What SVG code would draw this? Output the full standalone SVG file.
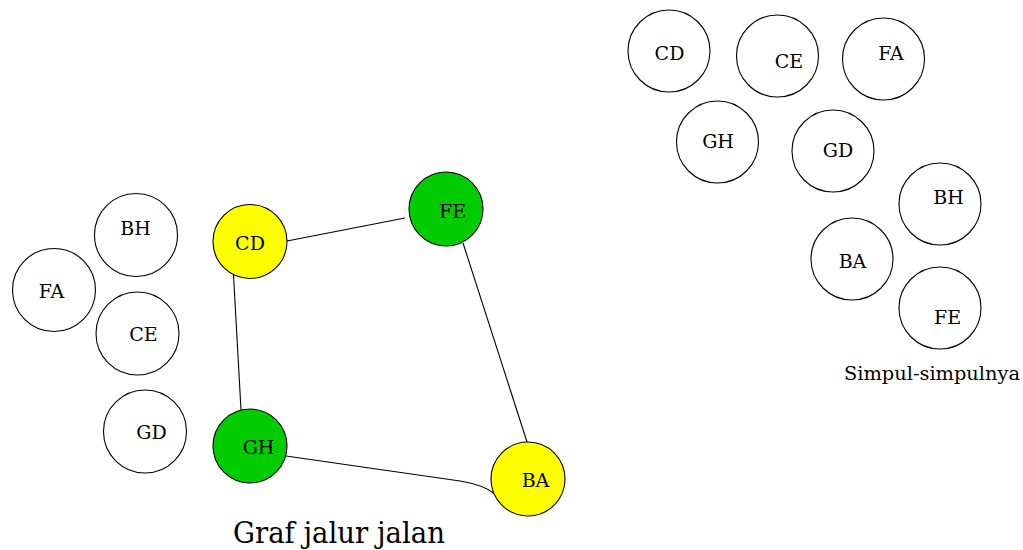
<svg xmlns="http://www.w3.org/2000/svg" width="1023" height="550" viewBox="0 0 1023 550">
<style>
.n{fill:#fff;stroke:#000;stroke-width:1.1}
.y{fill:#ffff00;stroke:#000;stroke-width:1.1}
.g{fill:#00cc00;stroke:#000;stroke-width:1.1}
.e{fill:none;stroke:#000;stroke-width:1.1}
</style>
<rect width="1023" height="550" fill="#fff"/>
<g id="connectors">
<path class="e" d="M287,241 L405,218"/>
<path class="e" d="M233.5,275 L241,410"/>
<path class="e" d="M463,243 L528,445"/>
<path class="e" d="M286,456 L460,481 Q484,485 495,494"/>
</g>
<g font-family="'DejaVu Serif', 'Liberation Serif', serif" font-size="19" fill="#000" text-anchor="middle">
<g id="main-CD"><circle class="y" cx="250" cy="241.5" r="37"/><text x="250" y="250">CD</text></g>
<g id="main-FE"><circle class="g" cx="446" cy="209" r="37"/><text x="452.5" y="218">FE</text></g>
<g id="main-GH"><circle class="g" cx="250" cy="446" r="37"/><text x="258.5" y="454">GH</text></g>
<g id="main-BA"><circle class="y" cx="528" cy="479" r="37"/><text x="535.5" y="487">BA</text></g>
<g id="left-BH"><circle class="n" cx="136" cy="235" r="41.5"/><text x="135.5" y="235">BH</text></g>
<g id="left-FA"><circle class="n" cx="54" cy="290" r="41.5"/><text x="51.5" y="298">FA</text></g>
<g id="left-CE"><circle class="n" cx="137.5" cy="333.5" r="41.5"/><text x="143.5" y="341">CE</text></g>
<g id="left-GD"><circle class="n" cx="145" cy="431.5" r="41.5"/><text x="151.5" y="439">GD</text></g>
<g id="right-CD"><circle class="n" cx="669" cy="51" r="41"/><text x="669.5" y="60">CD</text></g>
<g id="right-CE"><circle class="n" cx="777.5" cy="56" r="41"/><text x="789" y="68">CE</text></g>
<g id="right-FA"><circle class="n" cx="883.5" cy="59" r="41"/><text x="891" y="60">FA</text></g>
<g id="right-GH"><circle class="n" cx="717.5" cy="142" r="41"/><text x="718" y="148">GH</text></g>
<g id="right-GD"><circle class="n" cx="833" cy="151" r="41"/><text x="838" y="157">GD</text></g>
<g id="right-BH"><circle class="n" cx="940" cy="204" r="41"/><text x="948.5" y="204">BH</text></g>
<g id="right-BA"><circle class="n" cx="852" cy="259" r="41"/><text x="852.5" y="268">BA</text></g>
<g id="right-FE"><circle class="n" cx="940" cy="308" r="41"/><text x="947.5" y="324">FE</text></g>
<text x="932" y="380" font-size="18" textLength="176" lengthAdjust="spacingAndGlyphs">Simpul-simpulnya</text>
<text x="339" y="543" font-size="29" textLength="212" lengthAdjust="spacingAndGlyphs">Graf jalur jalan</text>
</g>
</svg>
